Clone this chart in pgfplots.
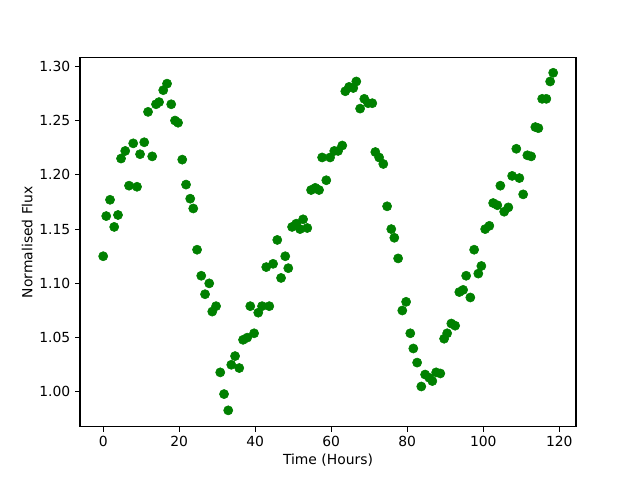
\documentclass[border=0pt]{standalone}
\usepackage{fontspec}
\setmainfont{DejaVu Sans}
\usepackage{pgfplots}
\pgfplotsset{compat=1.18}
\usetikzlibrary{calc}
\definecolor{mplgreen}{HTML}{008000}
\begin{document}
\begin{tikzpicture}
\begin{axis}[
  scale only axis,
  width=357.1pt, height=265.7pt,
  xmin=-6.1, xmax=124.4,
  ymin=0.968, ymax=1.308,
  xtick={0,20,40,60,80,100,120},
  ytick={1.00,1.05,1.10,1.15,1.20,1.25,1.30},
  yticklabel style={/pgf/number format/.cd, fixed, fixed zerofill, precision=2},
  /pgf/number format/assume math mode=true,
  tick align=outside,
  tick pos=left,
  major tick length=3.5pt,
  every tick/.style={black, line width=0.8pt},
  axis line style={line width=0.8pt},
  tick label style={font=\fontsize{10}{12}\selectfont},
  label style={font=\fontsize{10}{12}\selectfont},
  xlabel={Time (Hours)},
  ylabel={Normalised Flux},
  xlabel style={yshift=2pt},
  ylabel style={yshift=-2pt},
]
\addplot[only marks, mark=*, mark size=3.3pt, color=mplgreen, mark options={fill=mplgreen, draw=mplgreen}] coordinates {
(0,1.125) (0.8,1.162) (1.8,1.177) (2.9,1.152) (3.9,1.163) (4.7,1.215) (5.8,1.222)
(6.8,1.190) (7.9,1.229) (8.9,1.189) (9.7,1.219) (10.8,1.230) (11.8,1.258) (12.9,1.217)
(13.9,1.265) (14.7,1.267) (15.8,1.278) (16.8,1.284) (17.9,1.265) (18.9,1.250) (19.7,1.248)
(20.8,1.214) (21.8,1.191) (22.9,1.178) (23.7,1.169) (24.7,1.131) (25.8,1.107) (26.8,1.090)
(27.9,1.100) (28.7,1.074) (29.7,1.079) (30.8,1.018) (31.8,0.998) (32.9,0.983) (33.7,1.025)
(34.7,1.033) (35.8,1.022) (36.8,1.048) (37.9,1.050) (38.7,1.079) (39.7,1.054) (40.8,1.073)
(41.8,1.079) (42.9,1.115) (43.7,1.079) (44.7,1.118) (45.8,1.140) (46.8,1.105) (47.9,1.125)
(48.7,1.114) (49.7,1.152) (50.8,1.155) (51.8,1.150) (52.6,1.159) (53.7,1.151) (54.7,1.186)
(55.8,1.188) (56.8,1.186) (57.6,1.216) (58.7,1.195) (59.7,1.216) (60.8,1.222) (61.8,1.222)
(62.9,1.227) (63.7,1.277) (64.7,1.281) (65.8,1.280) (66.6,1.286) (67.6,1.261) (68.7,1.270)
(69.7,1.266) (70.8,1.266) (71.6,1.221) (72.6,1.216) (73.7,1.210) (74.7,1.171) (75.8,1.150)
(76.6,1.142) (77.6,1.123) (78.7,1.075) (79.7,1.083) (80.8,1.054) (81.6,1.040) (82.6,1.027)
(83.7,1.005) (84.7,1.016) (85.8,1.013) (86.6,1.010) (87.6,1.018) (88.7,1.017) (89.7,1.049)
(90.5,1.054) (91.6,1.063) (92.6,1.061) (93.7,1.092) (94.7,1.094) (95.5,1.107) (96.6,1.087)
(97.6,1.131) (98.7,1.109) (99.5,1.116) (100.5,1.150) (101.6,1.153) (102.6,1.174) (103.7,1.172)
(104.5,1.190) (105.5,1.166) (106.6,1.170) (107.6,1.199) (108.7,1.224) (109.5,1.197) (110.5,1.182)
(111.6,1.218) (112.6,1.217) (113.7,1.244) (114.5,1.243) (115.5,1.270) (116.6,1.270) (117.6,1.286)
(118.4,1.294)
};
\end{axis}
\path[use as bounding box] ($(current axis.south west)+(-57.6pt,-38.0pt)$) rectangle ($(current axis.north east)+(46.08pt,41.47pt)$);
\end{tikzpicture}
\end{document}
